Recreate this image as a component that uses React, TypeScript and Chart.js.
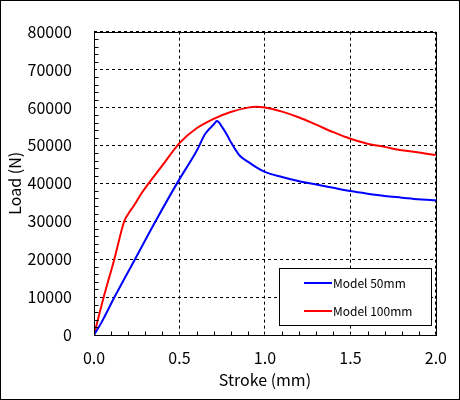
import React, { useEffect, useRef } from "react";
import { Chart, registerables } from "chart.js";

Chart.register(...registerables);

// ---- data ----
const STROKE_50 = [0, 0.04, 0.12, 0.24, 0.36, 0.5, 0.6, 0.65, 0.7, 0.72, 0.75, 0.78, 0.8, 0.85, 0.9, 0.95, 1.0, 1.1, 1.2, 1.3, 1.4, 1.5, 1.6, 1.7, 1.8, 1.9, 2.0];
const LOAD_50 = [0, 3000, 10000, 20000, 30000, 41100, 48500, 53000, 55500, 56400, 54800, 52600, 50900, 47400, 45700, 44200, 43000, 41650, 40540, 39670, 38810, 37950, 37260, 36660, 36220, 35780, 35520];

const STROKE_100 = [0, 0.057, 0.119, 0.177, 0.2, 0.232, 0.28, 0.4, 0.5, 0.6, 0.7, 0.8, 0.9, 0.95, 1.0, 1.1, 1.2, 1.3, 1.4, 1.5, 1.6, 1.7, 1.8, 1.9, 2.0];
const LOAD_100 = [0, 10000, 20000, 30000, 31900, 34000, 37500, 44700, 50600, 54500, 57000, 58800, 59950, 60200, 60000, 58900, 57360, 55450, 53480, 51750, 50450, 49600, 48720, 48120, 47430];

const SERIES_NAMES = ["Model 50mm", "Model 100mm"];
const SERIES_COLORS = ["#0000ff", "#ff0000"];

const X_MIN = 0;
const X_MAX = 2.0;
const X_STEP = 0.5;
const X_MINOR = 0.1;
const Y_MIN = 0;
const Y_MAX = 80000;
const Y_STEP = 10000;
const Y_MINOR = 2000;

const X_TITLE = "Stroke (mm)";
const Y_TITLE = "Load (N)";

const FONT = "'Noto Sans CJK JP', 'Noto Sans', sans-serif";

const toPoints = (xs: number[], ys: number[]) => xs.map((x, i) => ({ x, y: ys[i] }));

const framePlugin = {
  id: "frameAndLegend",
  afterDraw(chart: any) {
    const ctx = chart.ctx as CanvasRenderingContext2D;
    const { left, right, top, bottom } = chart.chartArea;
    const xs = chart.scales.x;
    const ys = chart.scales.y;
    ctx.save();
    ctx.setLineDash([]);
    ctx.strokeStyle = "#000";
    ctx.lineWidth = 1;

    // minor ticks, inward
    ctx.beginPath();
    const L = Math.round(left) + 0.5;
    const B = Math.round(bottom) + 0.5;
    for (let k = 1; k * Y_MINOR < Y_MAX; k++) {
      const v = k * Y_MINOR;
      if (v % Y_STEP === 0) continue;
      const py = Math.round(ys.getPixelForValue(v)) + 0.5;
      ctx.moveTo(L, py);
      ctx.lineTo(L + 4, py);
    }
    const nx = Math.round((X_MAX - X_MIN) / X_MINOR);
    for (let k = 1; k < nx; k++) {
      if (k % Math.round(X_STEP / X_MINOR) === 0) continue;
      const v = X_MIN + k * X_MINOR;
      const px = Math.round(xs.getPixelForValue(v)) + 0.5;
      ctx.moveTo(px, B);
      ctx.lineTo(px, B - 4);
    }
    ctx.stroke();

    // plot frame
    ctx.strokeRect(
      Math.round(left) + 0.5,
      Math.round(top) + 0.5,
      Math.round(right) - Math.round(left),
      Math.round(bottom) - Math.round(top)
    );

    // outer border
    ctx.strokeRect(0.5, 0.5, chart.width - 1, chart.height - 1);

    // legend
    const bx = 279.5, by = 268.5, bw = 152, bh = 57;
    ctx.fillStyle = "#fff";
    ctx.fillRect(bx, by, bw, bh);
    ctx.strokeRect(bx, by, bw, bh);
    ctx.font = `12px ${FONT}`;
    ctx.textBaseline = "middle";
    ctx.textAlign = "left";
    chart.data.datasets.forEach((ds: any, i: number) => {
      const yy = 283 + i * 28;
      ctx.strokeStyle = ds.borderColor;
      ctx.lineWidth = 2;
      ctx.beginPath();
      ctx.moveTo(304, yy);
      ctx.lineTo(332, yy);
      ctx.stroke();
      ctx.fillStyle = "#000";
      ctx.fillText(ds.label, 333, yy);
    });
    ctx.restore();
  },
};

export default function App() {
  const ref = useRef<HTMLCanvasElement | null>(null);

  useEffect(() => {
    document.body.style.margin = "0";
    const canvas = ref.current;
    if (!canvas) return;
    const chart = new Chart(canvas, {
      type: "line",
      data: {
        datasets: [
          {
            label: SERIES_NAMES[0],
            data: toPoints(STROKE_50, LOAD_50),
            borderColor: SERIES_COLORS[0],
            backgroundColor: SERIES_COLORS[0],
            borderWidth: 2,
            pointRadius: 0,
            cubicInterpolationMode: "monotone",
            fill: false,
          },
          {
            label: SERIES_NAMES[1],
            data: toPoints(STROKE_100, LOAD_100),
            borderColor: SERIES_COLORS[1],
            backgroundColor: SERIES_COLORS[1],
            borderWidth: 2,
            pointRadius: 0,
            cubicInterpolationMode: "monotone",
            fill: false,
          },
        ],
      },
      options: {
        animation: false,
        responsive: false,
        devicePixelRatio: 1,
        layout: { padding: { top: 26, right: 23, left: 0, bottom: 0 } },
        plugins: {
          legend: { display: false },
          tooltip: { enabled: false },
        },
        scales: {
          x: {
            type: "linear",
            min: X_MIN,
            max: X_MAX,
            afterFit: (s: any) => {
              s.height = 65;
            },
            ticks: {
              stepSize: X_STEP,
              color: "#000",
              padding: 13,
              maxRotation: 0,
              font: { family: FONT, size: 16 },
              callback: (v: any) => Number(v).toFixed(1),
            },
            grid: { color: "#000", lineWidth: 1, drawTicks: false },
            border: { display: false, dash: [3, 3] },
            title: {
              display: true,
              text: X_TITLE,
              color: "#000",
              font: { family: FONT, size: 16 },
              padding: { top: 0, bottom: 10 },
            },
          },
          y: {
            type: "linear",
            min: Y_MIN,
            max: Y_MAX,
            afterFit: (s: any) => {
              s.width = 94;
            },
            ticks: {
              stepSize: Y_STEP,
              color: "#000",
              padding: 22,
              font: { family: FONT, size: 16 },
              callback: (v: any) => String(v),
            },
            grid: { color: "#000", lineWidth: 1, drawTicks: false },
            border: { display: false, dash: [3, 3] },
            title: {
              display: true,
              text: Y_TITLE,
              color: "#000",
              font: { family: FONT, size: 16 },
              padding: { top: 5, bottom: 0 },
            },
          },
        },
      },
      plugins: [framePlugin],
    });
    return () => chart.destroy();
  }, []);

  return <canvas ref={ref} width={460} height={400} style={{ display: "block" }} />;
}
